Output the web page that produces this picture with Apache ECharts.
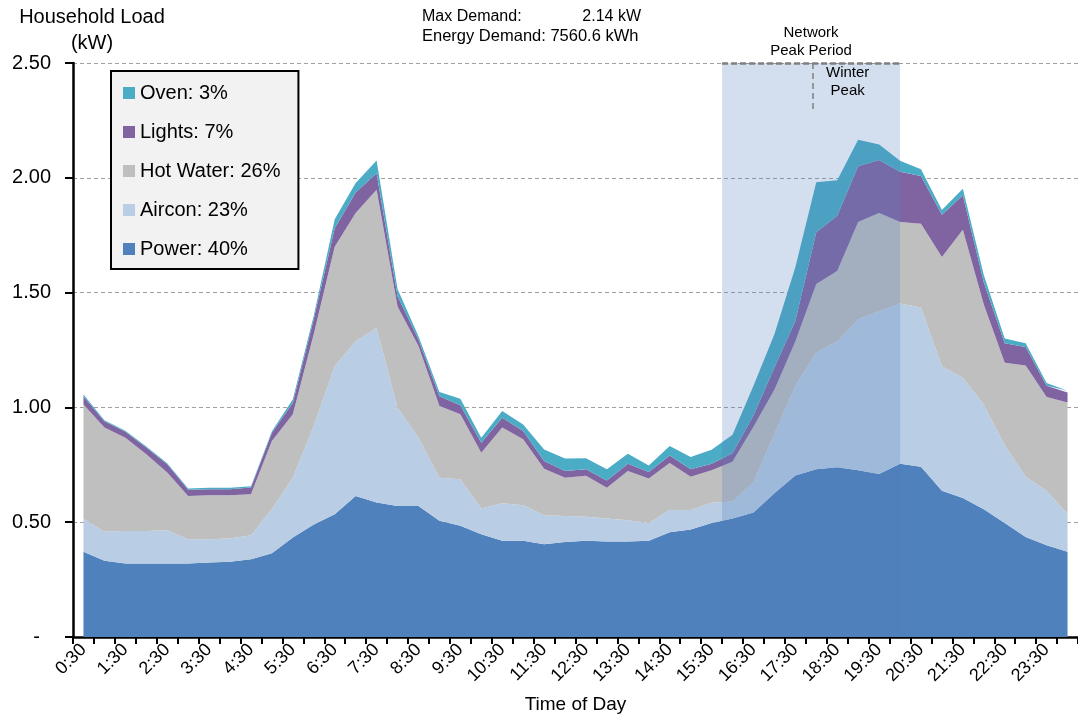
<!DOCTYPE html>
<html>
<head>
<meta charset="utf-8">
<style>
  html, body { margin: 0; padding: 0; background: #fff; }
  #chart { width: 1078px; height: 719px; }
</style>
<script src="https://cdn.jsdelivr.net/npm/echarts@6/dist/echarts.min.js"></script>
</head>
<body>
<div id="chart"></div>
<script>
// ======================
// DATA
// ======================

const timeLabels = [
    '0:30', '1:00', '1:30', '2:00', '2:30', '3:00', '3:30', '4:00',
    '4:30', '5:00', '5:30', '6:00', '6:30', '7:00', '7:30', '8:00',
    '8:30', '9:00', '9:30', '10:00', '10:30', '11:00', '11:30', '12:00',
    '12:30', '13:00', '13:30', '14:00', '14:30', '15:00', '15:30', '16:00',
    '16:30', '17:00', '17:30', '18:00', '18:30', '19:00', '19:30', '20:00',
    '20:30', '21:00', '21:30', '22:00', '22:30', '23:00', '23:30', '24:00'
];

const powerKw = [
    0.371, 0.332, 0.320, 0.320, 0.320, 0.320, 0.325, 0.328,
    0.339, 0.365, 0.433, 0.490, 0.535, 0.614, 0.586, 0.571,
    0.571, 0.506, 0.484, 0.448, 0.419, 0.419, 0.404, 0.414,
    0.419, 0.416, 0.416, 0.419, 0.456, 0.468, 0.497, 0.516,
    0.542, 0.626, 0.703, 0.731, 0.739, 0.726, 0.710, 0.755,
    0.742, 0.637, 0.605, 0.556, 0.497, 0.435, 0.400, 0.371
];

const airconKw = [
    0.145, 0.126, 0.142, 0.142, 0.145, 0.106, 0.101, 0.101,
    0.104, 0.192, 0.261, 0.430, 0.645, 0.674, 0.760, 0.428,
    0.297, 0.188, 0.203, 0.112, 0.164, 0.155, 0.126, 0.113,
    0.105, 0.100, 0.092, 0.078, 0.097, 0.085, 0.088, 0.074,
    0.132, 0.258, 0.391, 0.508, 0.548, 0.658, 0.709, 0.698,
    0.693, 0.542, 0.524, 0.457, 0.338, 0.263, 0.237, 0.166
];

const hotWaterKw = [
    0.497, 0.454, 0.406, 0.334, 0.251, 0.188, 0.191, 0.188,
    0.179, 0.297, 0.276, 0.400, 0.520, 0.559, 0.602, 0.441,
    0.399, 0.312, 0.283, 0.243, 0.329, 0.287, 0.203, 0.167,
    0.178, 0.134, 0.215, 0.193, 0.205, 0.145, 0.141, 0.173,
    0.242, 0.193, 0.193, 0.298, 0.307, 0.424, 0.428, 0.355,
    0.365, 0.476, 0.645, 0.435, 0.359, 0.484, 0.408, 0.484
];

const lightsKw = [
    0.035, 0.028, 0.026, 0.029, 0.036, 0.027, 0.027, 0.027,
    0.029, 0.036, 0.050, 0.065, 0.080, 0.089, 0.072, 0.044,
    0.029, 0.043, 0.039, 0.043, 0.043, 0.036, 0.034, 0.029,
    0.029, 0.032, 0.032, 0.029, 0.032, 0.033, 0.029, 0.037,
    0.049, 0.097, 0.089, 0.226, 0.241, 0.242, 0.230, 0.218,
    0.208, 0.184, 0.150, 0.097, 0.085, 0.081, 0.049, 0.044
];

const ovenKw = [
    0.008, 0.004, 0.004, 0.005, 0.005, 0.006, 0.006, 0.006,
    0.006, 0.006, 0.015, 0.015, 0.040, 0.041, 0.055, 0.032,
    0.014, 0.018, 0.029, 0.022, 0.029, 0.029, 0.050, 0.054,
    0.048, 0.049, 0.043, 0.028, 0.042, 0.053, 0.061, 0.081,
    0.129, 0.145, 0.234, 0.218, 0.154, 0.116, 0.068, 0.048,
    0.029, 0.021, 0.028, 0.032, 0.021, 0.016, 0.012, 0.008
];

const seriesNames = ['Power: 40%', 'Aircon: 23%', 'Hot Water: 26%', 'Lights: 7%', 'Oven: 3%'];
const seriesData = [powerKw, airconKw, hotWaterKw, lightsKw, ovenKw];
const seriesColors = ['#4f81bd', '#b9cde5', '#bfbfbf', '#8064a2', '#4bacc6'];

// network peak period, in category index units (half-hour slots)
const peakStart = 30.5;
const peakEnd = 39;
const winterPeakAt = 34.85;

const FONT = "'Liberation Sans', Arial, sans-serif";

// ======================
// CHART
// ======================

const chart = echarts.init(document.getElementById('chart'));

const areaSeries = seriesNames.map((name, i) => ({
    name: name,
    type: 'line',
    stack: 'load',
    data: seriesData[i],
    symbol: 'none',
    silent: true,
    lineStyle: { width: 0 },
    areaStyle: { color: seriesColors[i], opacity: 1 },
    itemStyle: { color: seriesColors[i] },
    z: 2
}));

// overlay for the network peak period (drawn over the areas)
const peakSeries = {
    name: 'peak',
    type: 'line',
    xAxisIndex: 1,
    data: [],
    silent: true,
    z: 5,
    markArea: {
        silent: true,
        z: 10,
        itemStyle: { color: 'rgba(79,129,189,0.25)' },
        label: {
            show: true,
            position: 'top',
            distance: 3,
            color: '#000',
            fontFamily: FONT,
            fontSize: 15,
            lineHeight: 18
        },
        data: [[
            { name: 'Network\nPeak Period', xAxis: peakStart, yAxis: 0 },
            { xAxis: peakEnd, yAxis: 2.5 }
        ]]
    },
    markLine: {
        silent: true,
        z: 11,
        symbol: 'none',
        label: { show: false },
        data: [
            [
                { coord: [peakStart, 2.5], lineStyle: { color: '#7f7f7f', width: 2.5, type: [6, 3] } },
                { coord: [peakEnd, 2.5] }
            ],
            [
                { coord: [winterPeakAt, 2.5], lineStyle: { color: '#7f7f7f', width: 1.5, type: [6, 4] } },
                { coord: [winterPeakAt, 2.29] }
            ]
        ]
    },
    markPoint: {
        silent: true,
        z: 11,
        symbol: 'circle',
        symbolSize: 0,
        label: {
            show: true,
            position: 'inside',
            color: '#000',
            fontFamily: FONT,
            fontSize: 15,
            lineHeight: 18,
            formatter: 'Winter\nPeak'
        },
        data: [{ coord: [36.5, 2.42] }]
    }
};

const option = {
    animation: false,
    backgroundColor: '#fff',
    textStyle: { fontFamily: FONT },
    title: {
        text: 'Household Load\n(kW)',
        left: 87,
        top: -1,
        textAlign: 'center',
        textStyle: {
            fontFamily: FONT,
            fontSize: 20,
            fontWeight: 'normal',
            color: '#000',
            lineHeight: 26
        }
    },
    legend: {
        data: seriesNames.slice().reverse(),
        orient: 'vertical',
        left: 111,
        top: 71,
        icon: 'rect',
        itemWidth: 12,
        itemHeight: 12,
        itemGap: 19,
        padding: [12, 18, 10, 12],
        backgroundColor: '#f2f2f2',
        borderColor: '#000',
        borderWidth: 2,
        selectedMode: false,
        textStyle: {
            fontFamily: FONT,
            fontSize: 20,
            lineHeight: 19,
            color: '#000'
        }
    },
    grid: {
        left: 73,
        top: 63,
        width: 1008,
        height: 575,
        containLabel: false
    },
    xAxis: [
        {
            type: 'category',
            data: timeLabels,
            boundaryGap: true,
            name: 'Time of Day',
            nameLocation: 'middle',
            nameGap: 58,
            nameTextStyle: { fontFamily: FONT, fontSize: 19, color: '#000' },
            axisLine: { onZero: false, lineStyle: { color: '#000', width: 2.5 } },
            axisTick: { show: true, interval: 0, length: 7, lineStyle: { color: '#000', width: 2 } },
            axisLabel: {
                interval: 1,
                rotate: 45,
                margin: 10,
                fontFamily: FONT,
                fontSize: 18,
                color: '#000'
            },
            splitLine: { show: false }
        },
        {
            type: 'value',
            min: -0.5,
            max: 47.5,
            show: false
        }
    ],
    yAxis: {
        type: 'value',
        min: 0,
        max: 2.5,
        interval: 0.5,
        axisLine: { show: true, onZero: false, lineStyle: { color: '#000', width: 2.5 } },
        axisTick: { show: true, inside: false, length: 8, lineStyle: { color: '#000', width: 2 } },
        axisLabel: {
            margin: 22,
            fontFamily: FONT,
            fontSize: 20,
            color: '#000',
            formatter: v => (v === 0 ? '-  ' : v.toFixed(2))
        },
        splitLine: {
            show: true,
            lineStyle: { color: '#a0a0a0', width: 1, type: [4, 3] }
        }
    },
    graphic: [
        {
            type: 'text',
            left: 422,
            top: 9,
            style: { text: 'Max Demand:', fontFamily: FONT, fontSize: 16, fill: '#000' }
        },
        {
            type: 'text',
            right: 1078 - 641,
            top: 9,
            style: { text: '2.14 kW', fontFamily: FONT, fontSize: 16, fill: '#000' }
        },
        {
            type: 'text',
            left: 422,
            top: 28,
            style: { text: 'Energy Demand: 7560.6 kWh', fontFamily: FONT, fontSize: 16.5, fill: '#000' }
        }
    ],
    series: areaSeries.concat([peakSeries])
};

try {
    chart.setOption(option);
} catch (error) {
    console.error('[HouseholdLoad] setOption error:', error);
}
</script>
</body>
</html>
